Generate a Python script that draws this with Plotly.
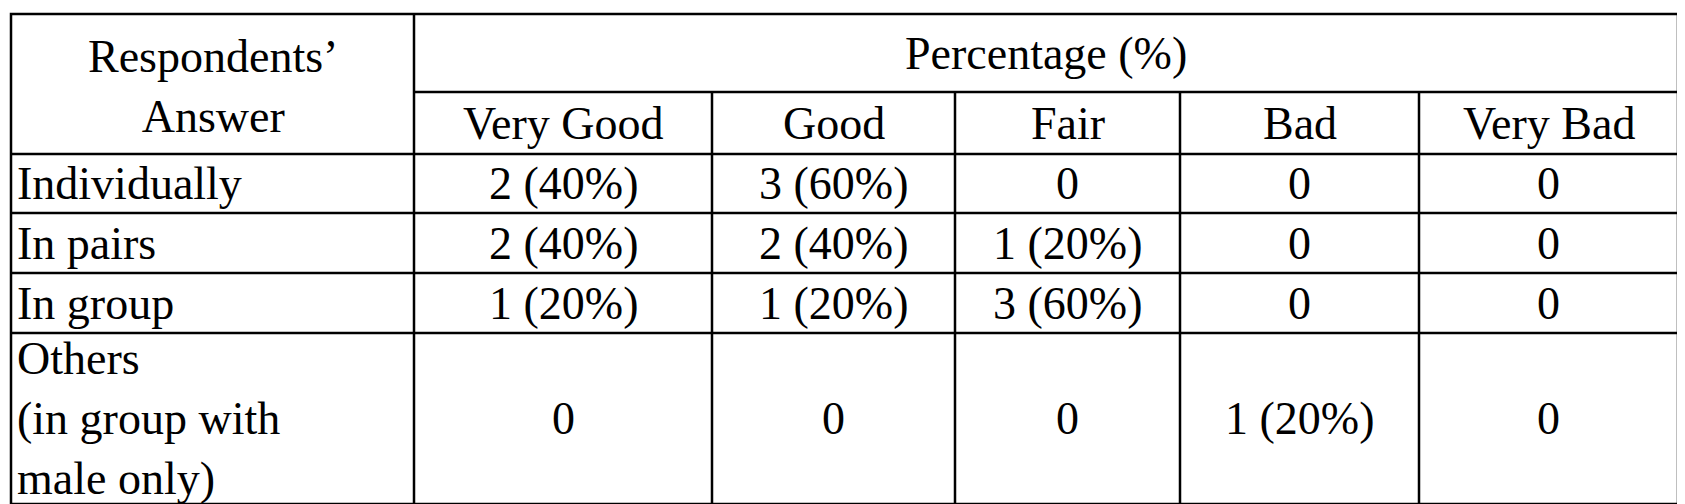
import plotly.graph_objects as go

row_labels = ["Individually", "In pairs", "In group", "Others<br>(in group with<br>male only)"]
col_labels = ["Very Good", "Good", "Fair", "Bad", "Very Bad"]
values = [
    ["2 (40%)", "3 (60%)", "0", "0", "0"],
    ["2 (40%)", "2 (40%)", "1 (20%)", "0", "0"],
    ["1 (20%)", "1 (20%)", "3 (60%)", "0", "0"],
    ["0", "0", "0", "1 (20%)", "0"],
]
header_left = "Respondents’<br>Answer"
header_top = "Percentage (%)"

W, H = 1685, 504
xs = [3, 406, 704, 947, 1172, 1411, 1670]
ys = [6, 84, 146, 205, 265, 325, 496]
FONT = dict(family="Liberation Serif", size=46, color="black")

fig = go.Figure()
shapes = []
line = dict(color="black", width=2.5)
shapes.append(dict(type="rect", x0=xs[0], x1=xs[-1], y0=ys[0], y1=ys[-1], line=line))
shapes.append(dict(type="line", x0=xs[1], x1=xs[-1], y0=ys[1], y1=ys[1], line=line))
for y in ys[2:-1]:
    shapes.append(dict(type="line", x0=xs[0], x1=xs[-1], y0=y, y1=y, line=line))
shapes.append(dict(type="line", x0=xs[1], x1=xs[1], y0=ys[0], y1=ys[-1], line=line))
for x in xs[2:-1]:
    shapes.append(dict(type="line", x0=x, x1=x, y0=ys[1], y1=ys[-1], line=line))

ann = []
ann.append(dict(x=(xs[0] + xs[1]) / 2, y=(ys[0] + ys[2]) / 2 + 2, text=header_left, showarrow=False,
                font=FONT, xanchor="center", yanchor="middle", align="center"))
ann.append(dict(x=(xs[1] + xs[-1]) / 2, y=(ys[0] + ys[1]) / 2, text=header_top, showarrow=False,
                font=FONT, xanchor="center", yanchor="middle"))
for j, c in enumerate(col_labels):
    ann.append(dict(x=(xs[j + 1] + xs[j + 2]) / 2, y=(ys[1] + ys[2]) / 2, text=c, showarrow=False,
                    font=FONT, xanchor="center", yanchor="middle"))
for i, r in enumerate(row_labels):
    yc = (ys[i + 2] + ys[i + 3]) / 2
    ann.append(dict(x=xs[0] + 4, y=yc, text=r, showarrow=False, font=FONT,
                    xanchor="left", yanchor="middle", align="left"))
    for j, v in enumerate(values[i]):
        ann.append(dict(x=(xs[j + 1] + xs[j + 2]) / 2, y=yc, text=v, showarrow=False,
                        font=FONT, xanchor="center", yanchor="middle"))

fig.update_layout(
    width=W, height=H, margin=dict(l=0, r=0, t=0, b=0),
    paper_bgcolor="white", plot_bgcolor="white",
    xaxis=dict(range=[0, W], visible=False, fixedrange=True),
    yaxis=dict(range=[H, 0], visible=False, fixedrange=True),
    shapes=shapes, annotations=ann, showlegend=False,
)
fig.write_html("out.html")
